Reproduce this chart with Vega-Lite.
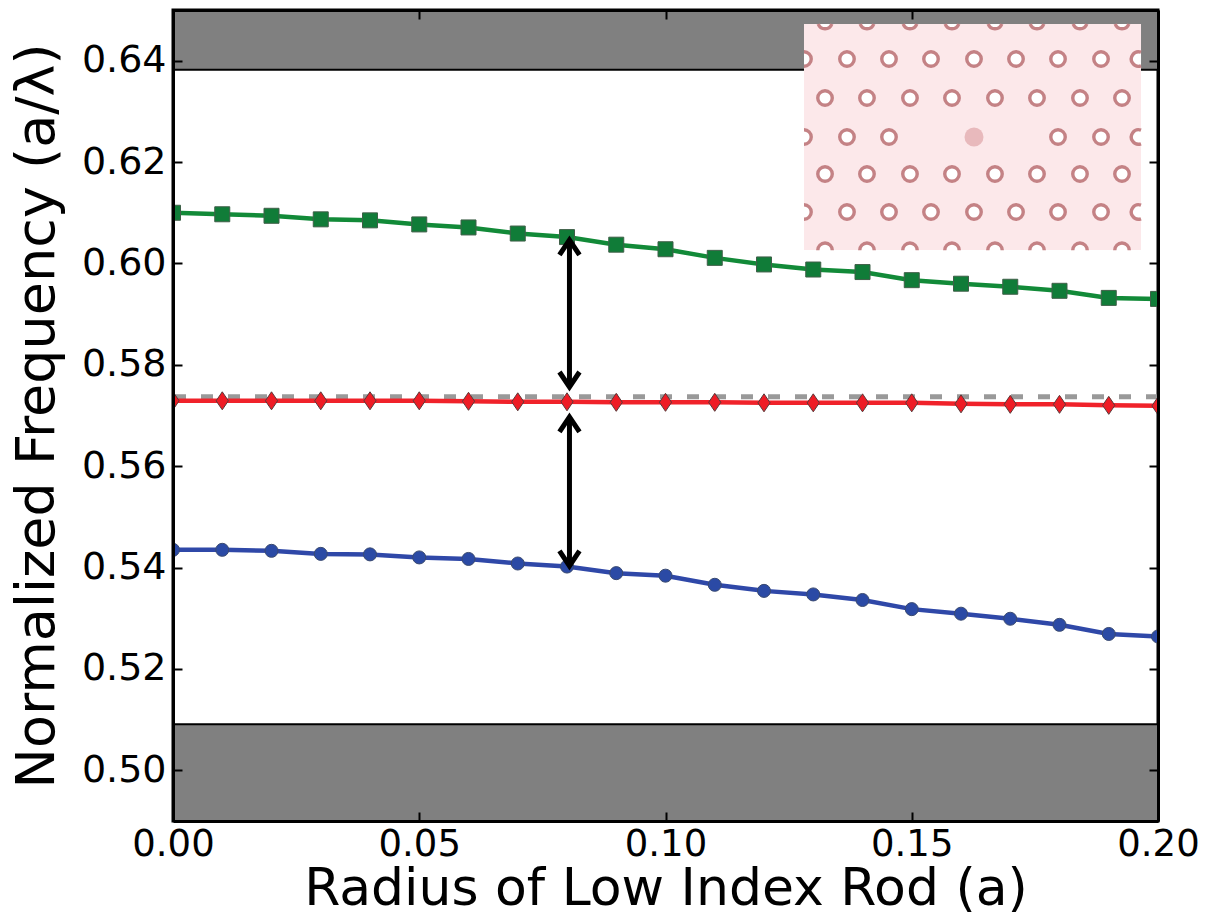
{"$schema":"https://vega.github.io/schema/vega-lite/v6.json","width":985,"height":811,"autosize":{"type":"none"},"padding":{"left":173,"top":10,"right":50,"bottom":101},"background":"white","config":{"view":{"stroke":"black","strokeWidth":3},"font":"DejaVu Sans"},"datasets":{"bands":[{"x":0,"x2":0.2,"y":0.6382,"y2":0.65},{"x":0,"x2":0.2,"y":0.49,"y2":0.5091}],"curves":[{"r":0,"band":"upper","f":0.61},{"r":0.01,"band":"upper","f":0.6097},{"r":0.02,"band":"upper","f":0.6094},{"r":0.03,"band":"upper","f":0.6087},{"r":0.04,"band":"upper","f":0.6085},{"r":0.05,"band":"upper","f":0.6077},{"r":0.06,"band":"upper","f":0.6071},{"r":0.07,"band":"upper","f":0.6059},{"r":0.08,"band":"upper","f":0.6052},{"r":0.09,"band":"upper","f":0.6037},{"r":0.1,"band":"upper","f":0.6028},{"r":0.11,"band":"upper","f":0.6011},{"r":0.12,"band":"upper","f":0.5998},{"r":0.13,"band":"upper","f":0.5988},{"r":0.14,"band":"upper","f":0.5983},{"r":0.15,"band":"upper","f":0.5967},{"r":0.16,"band":"upper","f":0.596},{"r":0.17,"band":"upper","f":0.5954},{"r":0.18,"band":"upper","f":0.5946},{"r":0.19,"band":"upper","f":0.5932},{"r":0.2,"band":"upper","f":0.593},{"r":0,"band":"middle","f":0.5729},{"r":0.01,"band":"middle","f":0.5729},{"r":0.02,"band":"middle","f":0.5729},{"r":0.03,"band":"middle","f":0.5729},{"r":0.04,"band":"middle","f":0.5729},{"r":0.05,"band":"middle","f":0.5729},{"r":0.06,"band":"middle","f":0.5728},{"r":0.07,"band":"middle","f":0.5727},{"r":0.08,"band":"middle","f":0.5727},{"r":0.09,"band":"middle","f":0.5726},{"r":0.1,"band":"middle","f":0.5726},{"r":0.11,"band":"middle","f":0.5726},{"r":0.12,"band":"middle","f":0.5725},{"r":0.13,"band":"middle","f":0.5725},{"r":0.14,"band":"middle","f":0.5725},{"r":0.15,"band":"middle","f":0.5725},{"r":0.16,"band":"middle","f":0.5723},{"r":0.17,"band":"middle","f":0.5722},{"r":0.18,"band":"middle","f":0.5722},{"r":0.19,"band":"middle","f":0.572},{"r":0.2,"band":"middle","f":0.5719},{"r":0,"band":"lower","f":0.5435},{"r":0.01,"band":"lower","f":0.5435},{"r":0.02,"band":"lower","f":0.5433},{"r":0.03,"band":"lower","f":0.5427},{"r":0.04,"band":"lower","f":0.5426},{"r":0.05,"band":"lower","f":0.542},{"r":0.06,"band":"lower","f":0.5417},{"r":0.07,"band":"lower","f":0.5408},{"r":0.08,"band":"lower","f":0.5402},{"r":0.09,"band":"lower","f":0.5389},{"r":0.1,"band":"lower","f":0.5384},{"r":0.11,"band":"lower","f":0.5366},{"r":0.12,"band":"lower","f":0.5354},{"r":0.13,"band":"lower","f":0.5347},{"r":0.14,"band":"lower","f":0.5336},{"r":0.15,"band":"lower","f":0.5318},{"r":0.16,"band":"lower","f":0.5309},{"r":0.17,"band":"lower","f":0.5299},{"r":0.18,"band":"lower","f":0.5287},{"r":0.19,"band":"lower","f":0.5269},{"r":0.2,"band":"lower","f":0.5264}],"arrows":[{"id":"a","r":0.0805,"f":0.6042},{"id":"a","r":0.0805,"f":0.576},{"id":"b","r":0.0805,"f":0.5693},{"id":"b","r":0.0805,"f":0.5407}],"heads":[{"r":0.0805,"f":0.60305,"dir":"up"},{"r":0.0805,"f":0.5772,"dir":"down"},{"r":0.0805,"f":0.56813,"dir":"up"},{"r":0.0805,"f":0.54189,"dir":"down"}],"inset":[{"x":0.12812,"x2":0.19655,"y":0.60265,"y2":0.64724}],"holes":[{"x":0.13239,"y":0.64773,"k":"top"},{"x":0.14091,"y":0.64773,"k":"top"},{"x":0.14964,"y":0.64773,"k":"top"},{"x":0.15817,"y":0.64773,"k":"top"},{"x":0.1669,"y":0.64773,"k":"top"},{"x":0.17543,"y":0.64773,"k":"top"},{"x":0.18416,"y":0.64773,"k":"top"},{"x":0.19269,"y":0.64773,"k":"top"},{"x":0.12812,"y":0.64033,"k":"left"},{"x":0.13685,"y":0.64033,"k":"full"},{"x":0.14538,"y":0.64033,"k":"full"},{"x":0.15391,"y":0.64033,"k":"full"},{"x":0.16264,"y":0.64033,"k":"full"},{"x":0.17117,"y":0.64033,"k":"full"},{"x":0.1797,"y":0.64033,"k":"full"},{"x":0.18843,"y":0.64033,"k":"full"},{"x":0.19706,"y":0.64033,"k":"right"},{"x":0.13239,"y":0.63264,"k":"full"},{"x":0.14091,"y":0.63264,"k":"full"},{"x":0.14964,"y":0.63264,"k":"full"},{"x":0.15817,"y":0.63264,"k":"full"},{"x":0.1669,"y":0.63264,"k":"full"},{"x":0.17543,"y":0.63264,"k":"full"},{"x":0.18416,"y":0.63264,"k":"full"},{"x":0.19269,"y":0.63264,"k":"full"},{"x":0.12812,"y":0.62495,"k":"left"},{"x":0.13685,"y":0.62495,"k":"full"},{"x":0.14538,"y":0.62495,"k":"full"},{"x":0.1797,"y":0.62495,"k":"full"},{"x":0.18843,"y":0.62495,"k":"full"},{"x":0.19706,"y":0.62495,"k":"right"},{"x":0.13239,"y":0.61765,"k":"full"},{"x":0.14091,"y":0.61765,"k":"full"},{"x":0.14964,"y":0.61765,"k":"full"},{"x":0.15817,"y":0.61765,"k":"full"},{"x":0.1669,"y":0.61765,"k":"full"},{"x":0.17543,"y":0.61765,"k":"full"},{"x":0.18416,"y":0.61765,"k":"full"},{"x":0.19269,"y":0.61765,"k":"full"},{"x":0.12812,"y":0.61015,"k":"left"},{"x":0.13685,"y":0.61015,"k":"full"},{"x":0.14538,"y":0.61015,"k":"full"},{"x":0.15391,"y":0.61015,"k":"full"},{"x":0.16264,"y":0.61015,"k":"full"},{"x":0.17117,"y":0.61015,"k":"full"},{"x":0.1797,"y":0.61015,"k":"full"},{"x":0.18843,"y":0.61015,"k":"full"},{"x":0.19706,"y":0.61015,"k":"right"},{"x":0.13239,"y":0.60275,"k":"bottom"},{"x":0.14091,"y":0.60275,"k":"bottom"},{"x":0.14964,"y":0.60275,"k":"bottom"},{"x":0.15817,"y":0.60275,"k":"bottom"},{"x":0.1669,"y":0.60275,"k":"bottom"},{"x":0.17543,"y":0.60275,"k":"bottom"},{"x":0.18416,"y":0.60275,"k":"bottom"},{"x":0.19269,"y":0.60275,"k":"bottom"}],"defect":[{"x":0.16264,"y":0.62495}],"gap":[{"f":0.5737}]},"resolve":{"axis":{"x":"independent","y":"independent"},"scale":{"shape":"independent"}},"layer":[{"data":{"name":"bands"},"mark":{"type":"rect","fill":"#808080","stroke":"black","strokeWidth":2},"encoding":{"x":{"field":"x","type":"quantitative","scale":{"domain":[0,0.2],"nice":false},"axis":{"title":"Radius of Low Index Rod (a)","titleFontSize":52,"titleFontWeight":"normal","titleColor":"black","titlePadding":1,"titleFont":"DejaVu Sans","labelFont":"DejaVu Sans","labelFontSize":37,"labelColor":"black","labelFlush":false,"labelOverlap":false,"labelBound":false,"values":[0,0.05,0.1,0.15,0.2],"format":".2f","tickSize":-9,"tickWidth":2,"tickColor":"black","labelPadding":14,"domainColor":"black","domainWidth":3,"grid":false,"zindex":2}},"x2":{"field":"x2"},"y":{"field":"y","type":"quantitative","scale":{"domain":[0.49,0.65],"nice":false},"axis":{"title":"Normalized Frequency (a/λ)","titleFontSize":54,"titleFontWeight":"normal","titleColor":"black","titlePadding":17,"titleFont":"DejaVu Sans","labelFont":"DejaVu Sans","labelFontSize":38,"labelColor":"black","labelFlush":false,"labelOverlap":false,"labelBound":false,"values":[0.5,0.52,0.54,0.56,0.58,0.6,0.62,0.64],"format":".2f","tickSize":-9,"tickWidth":2,"tickColor":"black","labelPadding":16,"domainColor":"black","domainWidth":3,"grid":false,"zindex":2}},"y2":{"field":"y2"}}},{"data":{"name":"gap"},"mark":{"type":"rule","color":"#999999","strokeWidth":5,"strokeDash":[12,15]},"encoding":{"y":{"field":"f","type":"quantitative","scale":{"domain":[0.49,0.65],"nice":false},"axis":{"orient":"right","title":null,"labels":false,"values":[0.5,0.52,0.54,0.56,0.58,0.6,0.62,0.64],"tickSize":-9,"tickWidth":2,"tickColor":"black","domainColor":"black","domainWidth":3,"grid":false,"zindex":2}}}},{"data":{"name":"curves"},"mark":{"type":"line","strokeWidth":4.5,"clip":true},"encoding":{"x":{"field":"r","type":"quantitative","scale":{"domain":[0,0.2],"nice":false},"axis":{"orient":"top","title":null,"labels":false,"values":[0,0.05,0.1,0.15,0.2],"tickSize":-9,"tickWidth":2,"tickColor":"black","domainColor":"black","domainWidth":3,"grid":false,"zindex":2}},"y":{"field":"f","type":"quantitative","scale":{"domain":[0.49,0.65],"nice":false},"axis":null},"color":{"field":"band","type":"nominal","scale":{"domain":["upper","middle","lower"],"range":["#128a38","#f0222a","#2f48a8"]},"legend":null}}},{"data":{"name":"curves"},"transform":[{"filter":"datum.band==='upper'"}],"mark":{"type":"point","shape":"square","filled":true,"size":225,"fill":"#107c38","stroke":"#3f5f48","strokeWidth":1,"opacity":1,"clip":true},"encoding":{"x":{"field":"r","type":"quantitative","scale":{"domain":[0,0.2],"nice":false},"axis":null},"y":{"field":"f","type":"quantitative","scale":{"domain":[0.49,0.65],"nice":false},"axis":null}}},{"data":{"name":"curves"},"transform":[{"filter":"datum.band==='middle'"}],"mark":{"type":"point","shape":"M0,-1L0.68,0L0,1L-0.68,0Z","filled":true,"size":324,"fill":"#ee1c25","stroke":"#5a3a3a","strokeWidth":1,"opacity":1,"clip":true},"encoding":{"x":{"field":"r","type":"quantitative","scale":{"domain":[0,0.2],"nice":false},"axis":null},"y":{"field":"f","type":"quantitative","scale":{"domain":[0.49,0.65],"nice":false},"axis":null}}},{"data":{"name":"curves"},"transform":[{"filter":"datum.band==='lower'"}],"mark":{"type":"point","shape":"circle","filled":true,"size":170,"fill":"#2b4aa5","stroke":"#3a4a70","strokeWidth":1,"opacity":1,"clip":true},"encoding":{"x":{"field":"r","type":"quantitative","scale":{"domain":[0,0.2],"nice":false},"axis":null},"y":{"field":"f","type":"quantitative","scale":{"domain":[0.49,0.65],"nice":false},"axis":null}}},{"data":{"name":"arrows"},"mark":{"type":"line","color":"black","strokeWidth":5},"encoding":{"x":{"field":"r","type":"quantitative","scale":{"domain":[0,0.2],"nice":false},"axis":null},"y":{"field":"f","type":"quantitative","scale":{"domain":[0.49,0.65],"nice":false},"axis":null},"detail":{"field":"id"}}},{"data":{"name":"heads"},"mark":{"type":"point","filled":false,"stroke":"black","strokeWidth":5,"size":400,"opacity":1},"encoding":{"x":{"field":"r","type":"quantitative","scale":{"domain":[0,0.2],"nice":false},"axis":null},"y":{"field":"f","type":"quantitative","scale":{"domain":[0.49,0.65],"nice":false},"axis":null},"shape":{"field":"dir","type":"nominal","scale":{"domain":["up","down","full","left","right","top","bottom"],"range":["M-1,0.7L0,-0.8L1,0.7","M-1,-0.7L0,0.8L1,-0.7","circle","M0,-1A1,1,0,0,1,0,1","M-0.345,-0.94A1,1,0,1,0,-0.345,0.94","M-0.94,0.345A1,1,0,0,0,0.94,0.345","M-1,0.1A1,1,0,0,1,1,0.1"]},"legend":null}}},{"data":{"name":"inset"},"mark":{"type":"rect","fill":"#fce8ea"},"encoding":{"x":{"field":"x","type":"quantitative","scale":{"domain":[0,0.2],"nice":false},"axis":null},"x2":{"field":"x2"},"y":{"field":"y","type":"quantitative","scale":{"domain":[0.49,0.65],"nice":false},"axis":null},"y2":{"field":"y2"}}},{"data":{"name":"holes"},"mark":{"type":"point","filled":false,"fill":"white","fillOpacity":1,"stroke":"#c48285","strokeWidth":3.4,"size":210,"opacity":1},"encoding":{"x":{"field":"x","type":"quantitative","scale":{"domain":[0,0.2],"nice":false},"axis":null},"y":{"field":"y","type":"quantitative","scale":{"domain":[0.49,0.65],"nice":false},"axis":null},"shape":{"field":"k","type":"nominal","scale":{"domain":["up","down","full","left","right","top","bottom"],"range":["M-1,0.7L0,-0.8L1,0.7","M-1,-0.7L0,0.8L1,-0.7","circle","M0,-1A1,1,0,0,1,0,1","M-0.345,-0.94A1,1,0,1,0,-0.345,0.94","M-0.94,0.345A1,1,0,0,0,0.94,0.345","M-1,0.1A1,1,0,0,1,1,0.1"]},"legend":null}}},{"data":{"name":"defect"},"mark":{"type":"point","shape":"circle","filled":true,"fill":"#e8b9bc","size":361,"opacity":1},"encoding":{"x":{"field":"x","type":"quantitative","scale":{"domain":[0,0.2],"nice":false},"axis":null},"y":{"field":"y","type":"quantitative","scale":{"domain":[0.49,0.65],"nice":false},"axis":null}}}]}
